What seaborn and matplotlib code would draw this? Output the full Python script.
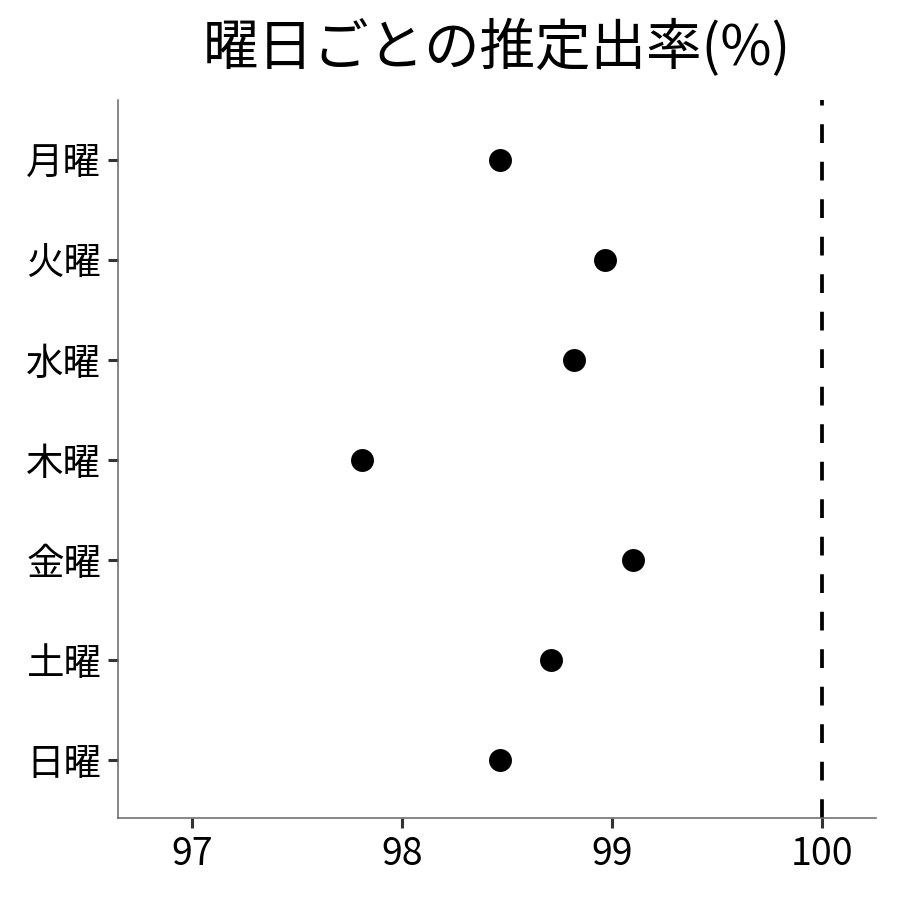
import matplotlib
matplotlib.use("Agg")
import matplotlib.pyplot as plt
import seaborn as sns
import pandas as pd

days = ["月曜", "火曜", "水曜", "木曜", "金曜", "土曜", "日曜"]
rates = [98.47, 98.97, 98.82, 97.81, 99.10, 98.71, 98.47]
x_ticks = [97, 98, 99, 100]
ref_value = 100
title = "曜日ごとの推定出率(%)"

sns.set_theme(style="ticks")
plt.rcParams['font.family'] = ['Noto Sans CJK JP', 'DejaVu Sans']

df = pd.DataFrame({"day": days, "rate": rates})

fig = plt.figure(figsize=(9, 9), dpi=100)
ax = fig.add_axes([0.131, 0.091, 0.842, 0.798])

sns.stripplot(data=df, x="rate", y="day", order=days, jitter=False,
              color="black", size=16.5, linewidth=0, ax=ax)
ax.axvline(ref_value, color="black", lw=2.7, linestyle=(0, (5, 5)), zorder=0)

ax.set_xlim(96.648, 100.257)
ax.set_ylim(6.58, -0.6)
ax.set_xticks(x_ticks)
ax.set_xticklabels([str(t) for t in x_ticks])
ax.set_xlabel("")
ax.set_ylabel("")

for s in ["top", "right"]:
    ax.spines[s].set_visible(False)
for s in ["left", "bottom"]:
    ax.spines[s].set_color("#666666")
    ax.spines[s].set_linewidth(1.1)

ax.tick_params(axis="both", length=7, width=2.2, color="#333333",
               labelsize=27, labelcolor="black", pad=5)

fig.text(0.552, 0.945, title, ha="center", va="center", fontsize=40, color="black")

fig.savefig("out.png", dpi=100, facecolor="white")
